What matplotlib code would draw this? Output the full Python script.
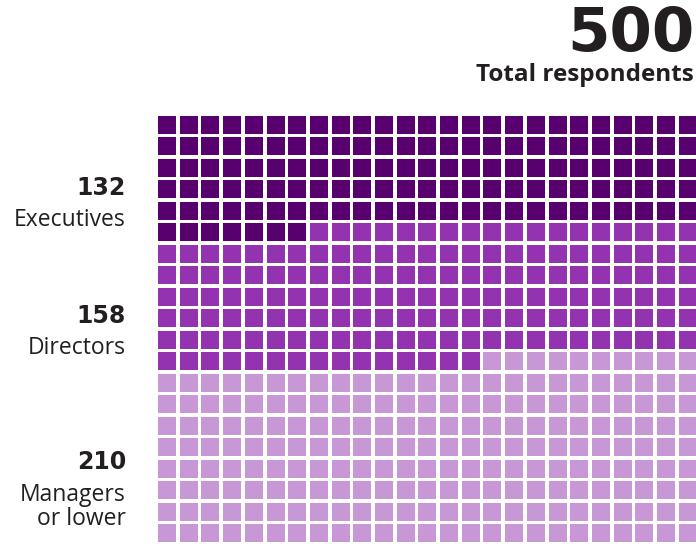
import matplotlib
matplotlib.use("Agg")
import matplotlib.pyplot as plt
from matplotlib.patches import Rectangle

categories = ["Executives", "Directors", "Managers\nor lower"]
counts = [132, 158, 210]
colors = ["#57006E", "#9333B0", "#C898D6"]
total_label = "Total respondents"

n_cols = 25
n_rows = 20

W, H = 696, 546
fig = plt.figure(figsize=(W / 100, H / 100), dpi=100)
plt.rcParams['font.family'] = ['Open Sans', 'DejaVu Sans']

# grid axes in pixel geometry
pitch_x, pitch_y = 21.7, 21.5
left, top = 158, 115.7
ax = fig.add_axes([left / W, 1 - (top + n_rows * pitch_y) / H,
                   n_cols * pitch_x / W, n_rows * pitch_y / H])
ax.set_xlim(0, n_cols)
ax.set_ylim(n_rows, 0)
ax.axis("off")

cw = 18 / pitch_x
ch = 18 / pitch_y
idx = 0
for cnt, col in zip(counts, colors):
    for _ in range(cnt):
        r, c = divmod(idx, n_cols)
        ax.add_patch(Rectangle((c, r), cw, ch, facecolor=col, edgecolor="none", clip_on=False))
        idx += 1

def ft(x, y, s, **kw):
    fig.text(x / W, 1 - y / H, s, **kw)

ft(694, 35, str(sum(counts)), ha="right", va="center", fontsize=44, fontweight="bold",
   color="#231F20", family=['DejaVu Sans'])
ft(694, 75, total_label, ha="right", va="center", fontsize=17.5, fontweight="bold", color="#231F20")

num_y = [188, 316, 462]
lab_y = [220, 348, 507]
for cnt, lab, ny, ly in zip(counts, categories, num_y, lab_y):
    ft(126, ny, str(cnt), ha="right", va="center", fontsize=17, fontweight="bold",
       color="#231F20", family=['DejaVu Sans'])
    ft(126, ly, lab, ha="right", va="center", fontsize=16.5, color="#231F20", linespacing=1.0)

fig.savefig("out.png", dpi=100)
